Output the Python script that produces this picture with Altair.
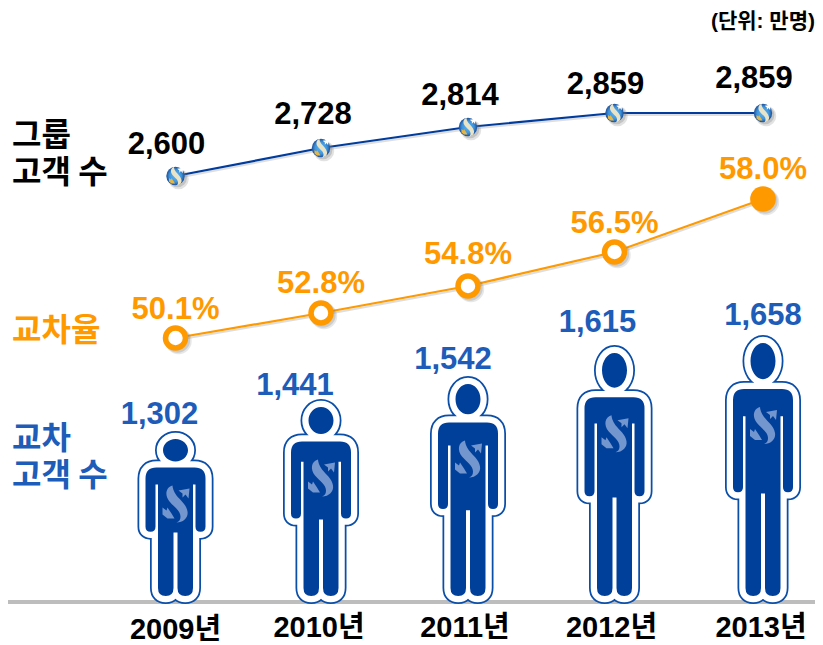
import re
import altair as alt
import pandas as pd

YEARS = ["2009년", "2010년", "2011년", "2012년", "2013년"]
YEAR_NUM = [2009, 2010, 2011, 2012, 2013]
GROUP = [2600, 2728, 2814, 2859, 2859]
RATE = [50.1, 52.8, 54.8, 56.5, 58.0]
CROSS = [1302, 1441, 1542, 1615, 1658]

W, H = 807, 637


def P(v):
    """Picture pixel to chart pixel (the page has an 8px margin)."""
    return v - 8


NAVY, FILL, TEXT_BLUE, ORANGE = "#003c9e", "#00409a", "#1d5cb8", "#ff9900"
FONT = "Liberation Sans, Noto Sans CJK KR"
HFONT = "Noto Sans CJK KR"

# piecewise scales: the picture's axes are not strictly linear
X = alt.Scale(domain=YEAR_NUM, range=[P(v) for v in [175.5, 321, 468, 614.5, 763]], zero=False, nice=False)
Y_GROUP = alt.Scale(domain=[2600, 2728, 2814, 2859], range=[P(v) for v in [176, 148, 127, 113]], zero=False, nice=False)
Y_RATE = alt.Scale(domain=RATE, range=[P(v) for v in [338, 313, 286, 252, 199]], zero=False, nice=False)
TOP_PX = [439, 407, 384, 353, 343]
TOPS = [P(v) for v in TOP_PX]
Y_CROSS = alt.Scale(domain=CROSS, range=TOPS, zero=False, nice=False)
FEET = P(596)

LOGO_S = "M -3 -18 C -10 -16 -11 -8 -6 -2 C -1 4 5 7 5 13 C 5 16 4 18 1 19 C 8 19 13 14 12 8 C 11 1 5 -3 1 -8 C -2 -12 -3 -16 -3 -18 Z"
LOGO_UP = "M 3 -13 L 14 -15 L 13 -5 L 10 -9 L 7 -6 L 7 -10 Z"
LOGO_DOWN = "M -13 4 L -9 7 L -8 4 L -4 10 L -1 15 L -8 15 L -13 11 Z"


def place(path, k=1.0, dx=0.0, dy=0.0):
    """Scale and shift a path of absolute x y pairs."""
    n = [0]

    def sub(m):
        v = float(m.group())
        i = n[0]
        n[0] += 1
        return f"{v * k + (dy if i % 2 else dx):.2f}"

    return re.sub(r"-?\d+(\.\d+)?", sub, path)


def person(h):
    ts, st, ab, cr = 0.182 * h, 0.29 * h, 0.59 * h, 0.595 * h
    hy = 0.143 * h
    k = 0.552
    rx, ry = 12.5, hy / 2
    head = (
        f"M {-rx} {ry} C {-rx} {ry - k * ry} {-k * rx} 0 0 0 C {k * rx} 0 {rx} {ry - k * ry} {rx} {ry} "
        f"C {rx} {ry + k * ry} {k * rx} {hy} 0 {hy} C {-k * rx} {hy} {-rx} {ry + k * ry} {-rx} {ry} Z"
    )
    right = (
        f"L 19 {ts} Q 30 {ts} 30 {ts + 11} L 30 {ab - 5} Q 30 {ab} 25 {ab} Q 20 {ab} 20 {ab - 5} "
        f"L 20 {st} L 17.5 {st} L 17.5 {h - 8} Q 17.5 {h} 9.75 {h} Q 2 {h} 2 {h - 8} L 2 {cr} "
    )
    left = (
        f"L -2 {cr} L -2 {h - 8} Q -2 {h} -9.75 {h} Q -17.5 {h} -17.5 {h - 8} L -17.5 {st} L -20 {st} "
        f"L -20 {ab - 5} Q -20 {ab} -25 {ab} Q -30 {ab} -30 {ab - 5} L -30 {ts + 11} Q -30 {ts} -19 {ts} Z"
    )
    return head + f" M 0 {ts} " + right + left


people = pd.DataFrame({
    "yr": YEAR_NUM,
    "cross": CROSS,
    "body": [person(FEET - t) for t in TOPS],
    "s": [place(LOGO_S, 1, 0, 0.182 * (FEET - t) + 36) for t in TOPS],
    "up": [place(LOGO_UP, 1, 0, 0.182 * (FEET - t) + 36) for t in TOPS],
    "down": [place(LOGO_DOWN, 1, 0, 0.182 * (FEET - t) + 36) for t in TOPS],
})
frame = pd.DataFrame({"yr": YEAR_NUM, "group": GROUP, "rate": RATE, "cross": CROSS})

layers = []


def add(ch):
    layers.append(ch)


# floor line
add(alt.Chart(frame.head(1)).mark_rule(color="#bdbdbd", strokeWidth=4).encode(
    x=alt.value(0), x2=alt.value(W), y=alt.value(P(602))))

# people
px = alt.X("yr:Q", scale=X, axis=None)
py = alt.Y("cross:Q", scale=Y_CROSS, axis=None)
for field, kw in [
    ("body", dict(filled=False, stroke="#0b4ea8", strokeWidth=16, strokeJoin="round", opacity=1)),
    ("body", dict(filled=False, stroke="#ffffff", strokeWidth=12.5, strokeJoin="round", opacity=1)),
    ("body", dict(filled=True, fill=FILL, strokeWidth=0, opacity=1)),
    ("s", dict(filled=True, fill="#7396cf", strokeWidth=0, opacity=1)),
    ("up", dict(filled=True, fill="#7396cf", strokeWidth=0, opacity=1)),
    ("down", dict(filled=True, fill="#7396cf", strokeWidth=0, opacity=1)),
]:
    add(alt.Chart(people).mark_point(**kw).encode(
        x=px, y=py, shape=alt.Shape(f"{field}:N", scale=None, legend=None), size=alt.value(4)))

# group line with globe markers
gy = alt.Y("group:Q", scale=Y_GROUP, axis=None)
add(alt.Chart(frame).mark_line(color="#c8c8c8", strokeWidth=2, xOffset=1, yOffset=2, opacity=0.6).encode(x=px, y=gy))
add(alt.Chart(frame).mark_line(color=NAVY, strokeWidth=2.2).encode(x=px, y=gy))
add(alt.Chart(frame).mark_circle(size=420, color="#7a7a7a", opacity=0.22, xOffset=3, yOffset=3).encode(x=px, y=gy))
add(alt.Chart(frame).mark_circle(size=350, color="#7a7a7a", opacity=0.3, xOffset=2, yOffset=2).encode(x=px, y=gy))
ball = alt.RadialGradient(
    gradient="radial",
    stops=[
        alt.GradientStop(color="#5fb6f0", offset=0),
        alt.GradientStop(color="#3f94dc", offset=0.65),
        alt.GradientStop(color="#1d4f97", offset=1),
    ],
)
add(alt.Chart(frame).mark_circle(size=340, fill=ball, opacity=1).encode(x=px, y=gy))
for path, colour in [
    (place(LOGO_S, 0.5), "#e9e3c8"),
    (place(LOGO_UP, 0.55), "#ffffff"),
    (place(LOGO_DOWN, 0.5), "#e3b64a"),
]:
    add(alt.Chart(frame.assign(p=path)).mark_point(filled=True, fill=colour, strokeWidth=0, opacity=1).encode(
        x=px, y=gy, shape=alt.Shape("p:N", scale=None, legend=None), size=alt.value(4)))

# rate line with rings
ry = alt.Y("rate:Q", scale=Y_RATE, axis=None)
add(alt.Chart(frame).mark_line(color="#c8c8c8", strokeWidth=2, xOffset=1, yOffset=2, opacity=0.6).encode(x=px, y=ry))
add(alt.Chart(frame).mark_line(color=ORANGE, strokeWidth=2.2).encode(x=px, y=ry))
add(alt.Chart(frame).mark_circle(size=700, color="#7a7a7a", opacity=0.18, xOffset=3, yOffset=3).encode(x=px, y=ry))
add(alt.Chart(frame).mark_circle(size=640, color="#7a7a7a", opacity=0.25, xOffset=2, yOffset=2).encode(x=px, y=ry))
add(alt.Chart(frame.head(4)).mark_point(size=398, filled=True, fill="#ffffff", stroke=ORANGE, strokeWidth=5.5, opacity=1).encode(x=px, y=ry))
add(alt.Chart(frame.tail(1)).mark_circle(size=660, color=ORANGE, opacity=1).encode(x=px, y=ry))


def labels(texts, y_enc, dxs, dys, colour, size=31):
    for i, t in enumerate(texts):
        add(alt.Chart(frame.iloc[[i]]).mark_text(
            text=t, font=FONT, fontWeight="bold", fontSize=size, color=colour,
            align="center", baseline="middle", dx=dxs[i], dy=dys[i],
        ).encode(x=px, y=y_enc))


labels([f"{v:,}" for v in GROUP], gy, [-9, -8, -8, -9, -9], [-31, -33, -31, -28, -34], "#000000")
labels([f"{v:.1f}%" for v in RATE], ry, [0, 0, 0, 0, 0], [-28, -29, -31, -28, -29], ORANGE)
labels([f"{v:,}" for v in CROSS], py, [-16, -26, -15, -17, 0], [-24, -21, -24, -30, -27], TEXT_BLUE)

# year labels along the floor
for i, y in enumerate(YEARS):
    add(alt.Chart(frame.iloc[[i]]).mark_text(
        text=y, font=FONT, fontWeight="bold", fontSize=29, color="#000000", align="center", baseline="middle",
        dx=[0, -2, -3, -3, -2][i],
    ).encode(x=px, y=alt.value(P(630 if i == 0 else 628))))

# side captions (multi-line text is anchored on its first line)
for text, x, y, colour in [
    (["그룹", "고객 수"], 12, 136, "#000000"),
    (["교차율"], 12, 331, ORANGE),
    (["교차", "고객 수"], 12, 439, TEXT_BLUE),
]:
    add(alt.Chart(frame.head(1)).mark_text(
        text=text, font=HFONT, fontWeight="bold", fontSize=32, lineHeight=37, color=colour,
        align="left", baseline="middle",
    ).encode(x=alt.value(P(x)), y=alt.value(P(y))))

add(alt.Chart(frame.head(1)).mark_text(
    text="(단위: 만명)", font=FONT, fontWeight="bold", fontSize=21, color="#000000", align="right", baseline="middle",
).encode(x=alt.value(P(815)), y=alt.value(P(22))))

chart = alt.layer(*layers).resolve_scale(y="independent").properties(
    width=W, height=H, padding=0, autosize=alt.AutoSizeParams(type="none"),
).configure_view(stroke=None)

chart.save("out.html", embed_options={"renderer": "svg", "actions": False})
